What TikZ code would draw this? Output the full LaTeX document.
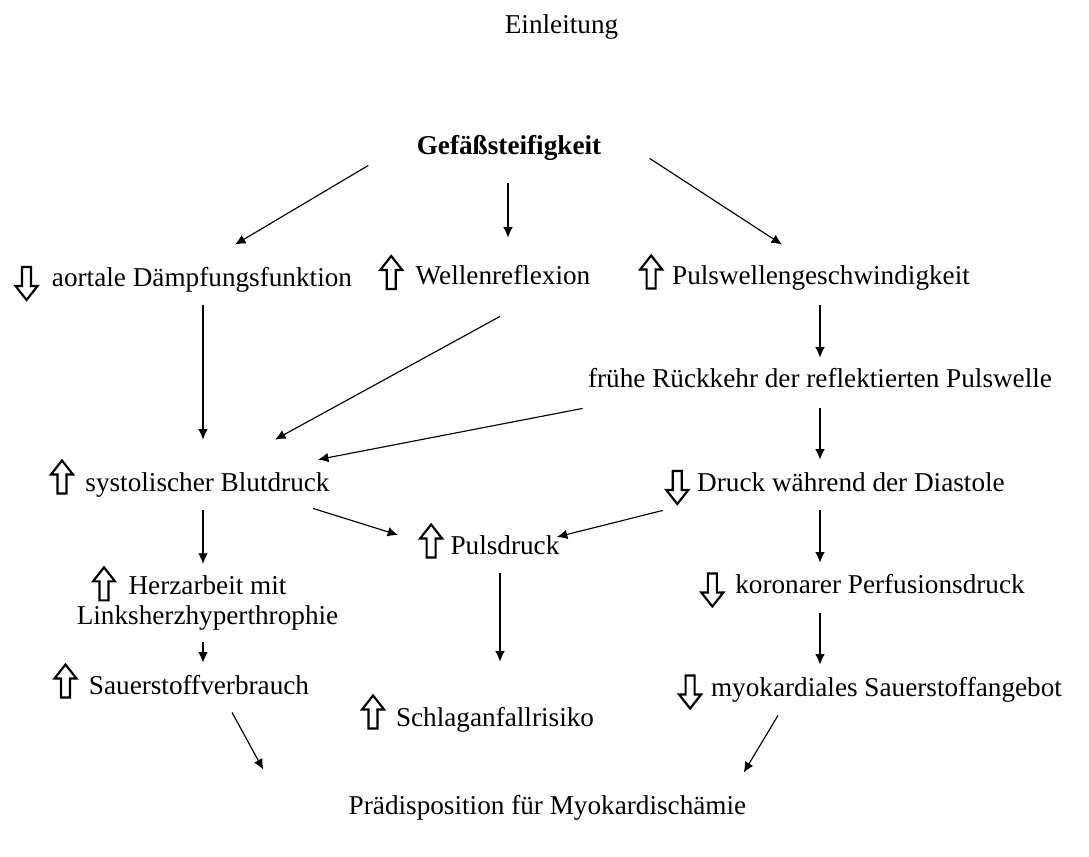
\documentclass[tikz,border=0pt]{standalone}
\usepackage{fontspec}
\setmainfont{Liberation Serif}
\usepackage{tikz}
\usetikzlibrary{positioning,arrows.meta}

\begin{document}
\begin{tikzpicture}[x=0.441pt,y=-0.441pt,
  zunahme/.pic={\draw[line width=0.95pt] (-4.5,16.5) -- (-4.5,-2.5) -- (-11,-2.5) -- (0,-16.5) -- (11,-2.5) -- (4.5,-2.5) -- (4.5,16.5) -- cycle;},
  abnahme/.pic={\draw[line width=0.95pt] (-4.5,-16.5) -- (-4.5,2.5) -- (-11,2.5) -- (0,16.5) -- (11,2.5) -- (4.5,2.5) -- (4.5,-16.5) -- cycle;}]
\tikzstyle{txt}=[inner sep=0pt, font=\fontsize{12}{13.5}\selectfont, text height=8.5pt, text depth=2.5pt]
\tikzstyle{twoline}=[inner sep=0pt, font=\fontsize{12}{13.5}\selectfont, align=center]
\tikzstyle{connect}=[-{Latex[length=4.6pt,width=4.2pt]}, line width=0.5pt]
\useasboundingbox (0,0) rectangle (1089,857);

	\node[txt] (einl) at (561.5,27) {Einleitung};
	\node[txt,font=\fontsize{12}{13.5}\selectfont\bfseries] (gef) at (509,148) {Gefäßsteifigkeit};

	\node[txt] (aort) at (202,280) {aortale Dämpfungsfunktion};
	\node[txt] (well) at (503,278) {Wellenreflexion};
	\node[txt] (puls) at (821,278) {Pulswellengeschwindigkeit};
	\node[txt] (rueck) at (820,381) {frühe Rückkehr der reflektierten Pulswelle};
	\node[txt] (syst) at (207.5,485) {systolischer Blutdruck};
	\node[txt] (druck) at (851,485) {Druck während der Diastole};
	\node[txt] (pdruck) at (505,548) {Pulsdruck};
	\node[twoline] (herz) at (207.5,603) {Herzarbeit mit\\Linksherzhyperthrophie};
	\node[txt] (koro) at (880,587) {koronarer Perfusionsdruck};
	\node[txt] (sauer) at (199,688) {Sauerstoffverbrauch};
	\node[txt] (myo) at (886.5,690) {myokardiales Sauerstoffangebot};
	\node[txt] (schlag) at (495,720) {Schlaganfallrisiko};
	\node[txt] (praed) at (547.5,808) {Prädisposition für Myokardischämie};

%   hollow arrows in front of the texts
	\pic at ([shift={(-25,3.5)}]aort.west) {abnahme};
	\pic at ([shift={(-24,-5.5)}]well.west) {zunahme};
	\pic at ([shift={(-20.5,-6)}]puls.west) {zunahme};
	\pic at ([shift={(-23,-8)}]syst.west) {zunahme};
	\pic at ([shift={(-19.5,2.5)}]druck.west) {abnahme};
	\pic at ([shift={(-19,-7)}]pdruck.west) {zunahme};
	\pic at ([shift={(-103.5,9)}]herz.north) {zunahme};
	\pic at ([shift={(-22.5,3)}]koro.west) {abnahme};
	\pic at ([shift={(-23,-7)}]sauer.west) {zunahme};
	\pic at ([shift={(-20.5,2)}]myo.west) {abnahme};
	\pic at ([shift={(-22.5,-8)}]schlag.west) {zunahme};

	\draw[connect] ([shift={(-48,4.5)}]gef.south west) -- ([shift={(33,-22.5)}]aort.north);
	\draw[connect] ([shift={(-1,22)}]gef.south) -- ([shift={(5,-27.5)}]well.north);
	\draw[connect] ([shift={(48,-2.5)}]gef.south east) -- ([shift={(-39,-20.5)}]puls.north);
	\draw[connect] ([shift={(1,12.5)}]aort.south) -- ([shift={(-4.5,-32.5)}]syst.north);
	\draw[connect] ([shift={(-3,25.5)}]well.south) -- ([shift={(67.5,-32.5)}]syst.north);
	\draw[connect] ([shift={(-1,14.5)}]puls.south) -- ([shift={(0,-10.5)}]rueck.north);
	\draw[connect] ([shift={(-5,14.5)}]rueck.south west) -- ([shift={(-12,-12.5)}]syst.north east);
	\draw[connect] ([shift={(0,14.5)}]rueck.south) -- ([shift={(-31,-12.5)}]druck.north);
	\draw[connect] ([shift={(-4.5,12.5)}]syst.south) -- ([shift={(-4.5,-11)}]herz.north);
	\draw[connect] ([shift={(-17,10.5)}]syst.south east) -- ([shift={(-52,-13)}]pdruck.west);
	\draw[connect] ([shift={(-34,12.5)}]druck.south west) -- ([shift={(-3,-11)}]pdruck.east);
	\draw[connect] ([shift={(-31,12.5)}]druck.south) -- ([shift={(-60,-11.5)}]koro.north);
	\draw[connect] ([shift={(-4.5,11)}]herz.south) -- ([shift={(4,-12.5)}]sauer.north);
	\draw[connect] ([shift={(-5,12.5)}]pdruck.south) -- ([shift={(5,-45.5)}]schlag.north);
	\draw[connect] ([shift={(-60,13.5)}]koro.south) -- ([shift={(-66.5,-12.5)}]myo.north);
	\draw[connect] ([shift={(33,11.5)}]sauer.south) -- ([shift={(-85,-25.5)}]praed.north west);
	\draw[connect] ([shift={(-108.5,12.5)}]myo.south) -- ([shift={(-3,-22.5)}]praed.north east);

\end{tikzpicture}
\end{document}
